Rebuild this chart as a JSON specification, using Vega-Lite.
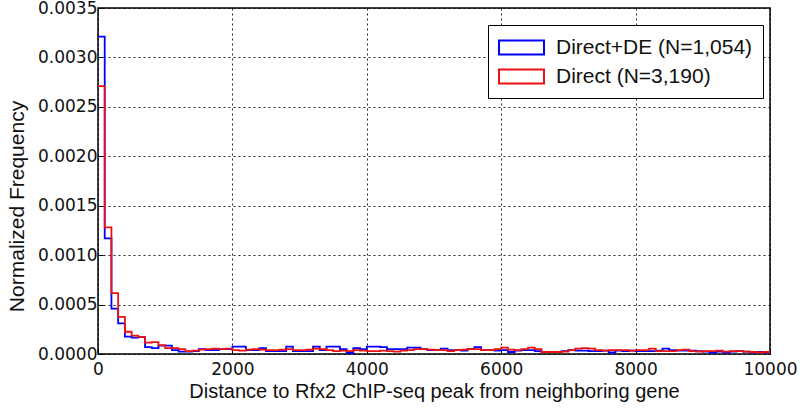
{
  "$schema": "https://vega.github.io/schema/vega-lite/v6.json",
  "width": 672,
  "height": 346,
  "autosize": {"type": "none"},
  "padding": {"left": 98, "top": 8, "right": 30, "bottom": 54},
  "background": "white",
  "config": {
    "view": {"stroke": "#000", "strokeWidth": 1.5},
    "axis": {
      "gridColor": "#000",
      "gridDash": [2, 3],
      "gridWidth": 1,
      "gridOpacity": 0.85,
      "domain": false,
      "tickColor": "#000",
      "tickSize": -5,
      "labelFont": "DejaVu Sans",
      "labelFontSize": 17,
      "labelColor": "#111",
      "titleFont": "Liberation Sans",
      "titleFontSize": 20,
      "titleFontWeight": "normal",
      "titleColor": "#111"
    }
  },
  "datasets": {
    "hist": [
      {"series": "Direct+DE (N=1,054)", "x": 0, "y": 0.00321},
      {"series": "Direct+DE (N=1,054)", "x": 100, "y": 0.00117},
      {"series": "Direct+DE (N=1,054)", "x": 200, "y": 0.00046},
      {"series": "Direct+DE (N=1,054)", "x": 300, "y": 0.00031},
      {"series": "Direct+DE (N=1,054)", "x": 400, "y": 0.000175},
      {"series": "Direct+DE (N=1,054)", "x": 500, "y": 0.000165},
      {"series": "Direct+DE (N=1,054)", "x": 600, "y": 0.00017},
      {"series": "Direct+DE (N=1,054)", "x": 700, "y": 0.00007},
      {"series": "Direct+DE (N=1,054)", "x": 800, "y": 0.00006},
      {"series": "Direct+DE (N=1,054)", "x": 900, "y": 0.000085},
      {"series": "Direct+DE (N=1,054)", "x": 1000, "y": 0.000085},
      {"series": "Direct+DE (N=1,054)", "x": 1100, "y": 0.00004},
      {"series": "Direct+DE (N=1,054)", "x": 1200, "y": 0.000025},
      {"series": "Direct+DE (N=1,054)", "x": 1300, "y": 0.000025},
      {"series": "Direct+DE (N=1,054)", "x": 1400, "y": 0.00003},
      {"series": "Direct+DE (N=1,054)", "x": 1500, "y": 0.00005},
      {"series": "Direct+DE (N=1,054)", "x": 1600, "y": 0.00004},
      {"series": "Direct+DE (N=1,054)", "x": 1700, "y": 0.00004},
      {"series": "Direct+DE (N=1,054)", "x": 1800, "y": 0.00005},
      {"series": "Direct+DE (N=1,054)", "x": 1900, "y": 0.00005},
      {"series": "Direct+DE (N=1,054)", "x": 2000, "y": 0.000075},
      {"series": "Direct+DE (N=1,054)", "x": 2100, "y": 0.000075},
      {"series": "Direct+DE (N=1,054)", "x": 2200, "y": 0.00004},
      {"series": "Direct+DE (N=1,054)", "x": 2300, "y": 0.00004},
      {"series": "Direct+DE (N=1,054)", "x": 2400, "y": 0.00006},
      {"series": "Direct+DE (N=1,054)", "x": 2500, "y": 0.00003},
      {"series": "Direct+DE (N=1,054)", "x": 2600, "y": 0.00003},
      {"series": "Direct+DE (N=1,054)", "x": 2700, "y": 0.00003},
      {"series": "Direct+DE (N=1,054)", "x": 2800, "y": 0.000075},
      {"series": "Direct+DE (N=1,054)", "x": 2900, "y": 0.00003},
      {"series": "Direct+DE (N=1,054)", "x": 3000, "y": 0.00003},
      {"series": "Direct+DE (N=1,054)", "x": 3100, "y": 0.00003},
      {"series": "Direct+DE (N=1,054)", "x": 3200, "y": 0.000075},
      {"series": "Direct+DE (N=1,054)", "x": 3300, "y": 0.00004},
      {"series": "Direct+DE (N=1,054)", "x": 3400, "y": 0.000075},
      {"series": "Direct+DE (N=1,054)", "x": 3500, "y": 0.000075},
      {"series": "Direct+DE (N=1,054)", "x": 3600, "y": 0.00005},
      {"series": "Direct+DE (N=1,054)", "x": 3700, "y": 0.00001},
      {"series": "Direct+DE (N=1,054)", "x": 3800, "y": 0.00006},
      {"series": "Direct+DE (N=1,054)", "x": 3900, "y": 0.00005},
      {"series": "Direct+DE (N=1,054)", "x": 4000, "y": 0.000075},
      {"series": "Direct+DE (N=1,054)", "x": 4100, "y": 0.000075},
      {"series": "Direct+DE (N=1,054)", "x": 4200, "y": 0.00007},
      {"series": "Direct+DE (N=1,054)", "x": 4300, "y": 0.00005},
      {"series": "Direct+DE (N=1,054)", "x": 4400, "y": 0.00005},
      {"series": "Direct+DE (N=1,054)", "x": 4500, "y": 0.00005},
      {"series": "Direct+DE (N=1,054)", "x": 4600, "y": 0.000065},
      {"series": "Direct+DE (N=1,054)", "x": 4700, "y": 0.000065},
      {"series": "Direct+DE (N=1,054)", "x": 4800, "y": 0.00005},
      {"series": "Direct+DE (N=1,054)", "x": 4900, "y": 0.00004},
      {"series": "Direct+DE (N=1,054)", "x": 5000, "y": 0.00004},
      {"series": "Direct+DE (N=1,054)", "x": 5100, "y": 0.000055},
      {"series": "Direct+DE (N=1,054)", "x": 5200, "y": 0.00004},
      {"series": "Direct+DE (N=1,054)", "x": 5300, "y": 0.00004},
      {"series": "Direct+DE (N=1,054)", "x": 5400, "y": 0.000035},
      {"series": "Direct+DE (N=1,054)", "x": 5500, "y": 0.00005},
      {"series": "Direct+DE (N=1,054)", "x": 5600, "y": 0.00007},
      {"series": "Direct+DE (N=1,054)", "x": 5700, "y": 0.00004},
      {"series": "Direct+DE (N=1,054)", "x": 5800, "y": 0.00004},
      {"series": "Direct+DE (N=1,054)", "x": 5900, "y": 0.000035},
      {"series": "Direct+DE (N=1,054)", "x": 6000, "y": 0.00004},
      {"series": "Direct+DE (N=1,054)", "x": 6100, "y": 0.00002},
      {"series": "Direct+DE (N=1,054)", "x": 6200, "y": 0.000035},
      {"series": "Direct+DE (N=1,054)", "x": 6300, "y": 0.00004},
      {"series": "Direct+DE (N=1,054)", "x": 6400, "y": 0.00004},
      {"series": "Direct+DE (N=1,054)", "x": 6500, "y": 0.00003},
      {"series": "Direct+DE (N=1,054)", "x": 6600, "y": 0.00002},
      {"series": "Direct+DE (N=1,054)", "x": 6700, "y": 0.00002},
      {"series": "Direct+DE (N=1,054)", "x": 6800, "y": 0.00002},
      {"series": "Direct+DE (N=1,054)", "x": 6900, "y": 0.00003},
      {"series": "Direct+DE (N=1,054)", "x": 7000, "y": 0.00004},
      {"series": "Direct+DE (N=1,054)", "x": 7100, "y": 0.000035},
      {"series": "Direct+DE (N=1,054)", "x": 7200, "y": 0.000035},
      {"series": "Direct+DE (N=1,054)", "x": 7300, "y": 0.00003},
      {"series": "Direct+DE (N=1,054)", "x": 7400, "y": 0.00003},
      {"series": "Direct+DE (N=1,054)", "x": 7500, "y": 0.000035},
      {"series": "Direct+DE (N=1,054)", "x": 7600, "y": 0.000015},
      {"series": "Direct+DE (N=1,054)", "x": 7700, "y": 0.000035},
      {"series": "Direct+DE (N=1,054)", "x": 7800, "y": 0.00003},
      {"series": "Direct+DE (N=1,054)", "x": 7900, "y": 0.000035},
      {"series": "Direct+DE (N=1,054)", "x": 8000, "y": 0.00003},
      {"series": "Direct+DE (N=1,054)", "x": 8100, "y": 0.00003},
      {"series": "Direct+DE (N=1,054)", "x": 8200, "y": 0.00003},
      {"series": "Direct+DE (N=1,054)", "x": 8300, "y": 0.000035},
      {"series": "Direct+DE (N=1,054)", "x": 8400, "y": 0.000055},
      {"series": "Direct+DE (N=1,054)", "x": 8500, "y": 0.00004},
      {"series": "Direct+DE (N=1,054)", "x": 8600, "y": 0.000035},
      {"series": "Direct+DE (N=1,054)", "x": 8700, "y": 0.000035},
      {"series": "Direct+DE (N=1,054)", "x": 8800, "y": 0.000035},
      {"series": "Direct+DE (N=1,054)", "x": 8900, "y": 0.00003},
      {"series": "Direct+DE (N=1,054)", "x": 9000, "y": 0.000025},
      {"series": "Direct+DE (N=1,054)", "x": 9100, "y": 0.000015},
      {"series": "Direct+DE (N=1,054)", "x": 9200, "y": 0.000025},
      {"series": "Direct+DE (N=1,054)", "x": 9300, "y": 0.000015},
      {"series": "Direct+DE (N=1,054)", "x": 9400, "y": 0.000025},
      {"series": "Direct+DE (N=1,054)", "x": 9500, "y": 0.00003},
      {"series": "Direct+DE (N=1,054)", "x": 9600, "y": 0.000025},
      {"series": "Direct+DE (N=1,054)", "x": 9700, "y": 0.000015},
      {"series": "Direct+DE (N=1,054)", "x": 9800, "y": 0.00002},
      {"series": "Direct+DE (N=1,054)", "x": 9900, "y": 0.000015},
      {"series": "Direct+DE (N=1,054)", "x": 10000, "y": 0},
      {"series": "Direct (N=3,190)", "x": 0, "y": 0.00271},
      {"series": "Direct (N=3,190)", "x": 100, "y": 0.00128},
      {"series": "Direct (N=3,190)", "x": 200, "y": 0.000615},
      {"series": "Direct (N=3,190)", "x": 300, "y": 0.000375},
      {"series": "Direct (N=3,190)", "x": 400, "y": 0.000225},
      {"series": "Direct (N=3,190)", "x": 500, "y": 0.000185},
      {"series": "Direct (N=3,190)", "x": 600, "y": 0.00017},
      {"series": "Direct (N=3,190)", "x": 700, "y": 0.000115},
      {"series": "Direct (N=3,190)", "x": 800, "y": 0.00012},
      {"series": "Direct (N=3,190)", "x": 900, "y": 0.00009},
      {"series": "Direct (N=3,190)", "x": 1000, "y": 0.00006},
      {"series": "Direct (N=3,190)", "x": 1100, "y": 0.00006},
      {"series": "Direct (N=3,190)", "x": 1200, "y": 0.00005},
      {"series": "Direct (N=3,190)", "x": 1300, "y": 0.00003},
      {"series": "Direct (N=3,190)", "x": 1400, "y": 0.000035},
      {"series": "Direct (N=3,190)", "x": 1500, "y": 0.000045},
      {"series": "Direct (N=3,190)", "x": 1600, "y": 0.00005},
      {"series": "Direct (N=3,190)", "x": 1700, "y": 0.000055},
      {"series": "Direct (N=3,190)", "x": 1800, "y": 0.00005},
      {"series": "Direct (N=3,190)", "x": 1900, "y": 0.000055},
      {"series": "Direct (N=3,190)", "x": 2000, "y": 0.00004},
      {"series": "Direct (N=3,190)", "x": 2100, "y": 0.000035},
      {"series": "Direct (N=3,190)", "x": 2200, "y": 0.000045},
      {"series": "Direct (N=3,190)", "x": 2300, "y": 0.00005},
      {"series": "Direct (N=3,190)", "x": 2400, "y": 0.000045},
      {"series": "Direct (N=3,190)", "x": 2500, "y": 0.00004},
      {"series": "Direct (N=3,190)", "x": 2600, "y": 0.00004},
      {"series": "Direct (N=3,190)", "x": 2700, "y": 0.000045},
      {"series": "Direct (N=3,190)", "x": 2800, "y": 0.00005},
      {"series": "Direct (N=3,190)", "x": 2900, "y": 0.00004},
      {"series": "Direct (N=3,190)", "x": 3000, "y": 0.00004},
      {"series": "Direct (N=3,190)", "x": 3100, "y": 0.000045},
      {"series": "Direct (N=3,190)", "x": 3200, "y": 0.000055},
      {"series": "Direct (N=3,190)", "x": 3300, "y": 0.00005},
      {"series": "Direct (N=3,190)", "x": 3400, "y": 0.00004},
      {"series": "Direct (N=3,190)", "x": 3500, "y": 0.00003},
      {"series": "Direct (N=3,190)", "x": 3600, "y": 0.000035},
      {"series": "Direct (N=3,190)", "x": 3700, "y": 0.00003},
      {"series": "Direct (N=3,190)", "x": 3800, "y": 0.00004},
      {"series": "Direct (N=3,190)", "x": 3900, "y": 0.000035},
      {"series": "Direct (N=3,190)", "x": 4000, "y": 0.00003},
      {"series": "Direct (N=3,190)", "x": 4100, "y": 0.00003},
      {"series": "Direct (N=3,190)", "x": 4200, "y": 0.000035},
      {"series": "Direct (N=3,190)", "x": 4300, "y": 0.00003},
      {"series": "Direct (N=3,190)", "x": 4400, "y": 0.000025},
      {"series": "Direct (N=3,190)", "x": 4500, "y": 0.000035},
      {"series": "Direct (N=3,190)", "x": 4600, "y": 0.00004},
      {"series": "Direct (N=3,190)", "x": 4700, "y": 0.00005},
      {"series": "Direct (N=3,190)", "x": 4800, "y": 0.00005},
      {"series": "Direct (N=3,190)", "x": 4900, "y": 0.000045},
      {"series": "Direct (N=3,190)", "x": 5000, "y": 0.00004},
      {"series": "Direct (N=3,190)", "x": 5100, "y": 0.00004},
      {"series": "Direct (N=3,190)", "x": 5200, "y": 0.00003},
      {"series": "Direct (N=3,190)", "x": 5300, "y": 0.00004},
      {"series": "Direct (N=3,190)", "x": 5400, "y": 0.000045},
      {"series": "Direct (N=3,190)", "x": 5500, "y": 0.00005},
      {"series": "Direct (N=3,190)", "x": 5600, "y": 0.00005},
      {"series": "Direct (N=3,190)", "x": 5700, "y": 0.00004},
      {"series": "Direct (N=3,190)", "x": 5800, "y": 0.00004},
      {"series": "Direct (N=3,190)", "x": 5900, "y": 0.00005},
      {"series": "Direct (N=3,190)", "x": 6000, "y": 0.000065},
      {"series": "Direct (N=3,190)", "x": 6100, "y": 0.000045},
      {"series": "Direct (N=3,190)", "x": 6200, "y": 0.00004},
      {"series": "Direct (N=3,190)", "x": 6300, "y": 0.00005},
      {"series": "Direct (N=3,190)", "x": 6400, "y": 0.000065},
      {"series": "Direct (N=3,190)", "x": 6500, "y": 0.00005},
      {"series": "Direct (N=3,190)", "x": 6600, "y": 0.00002},
      {"series": "Direct (N=3,190)", "x": 6700, "y": 0.00002},
      {"series": "Direct (N=3,190)", "x": 6800, "y": 0.00002},
      {"series": "Direct (N=3,190)", "x": 6900, "y": 0.000025},
      {"series": "Direct (N=3,190)", "x": 7000, "y": 0.00004},
      {"series": "Direct (N=3,190)", "x": 7100, "y": 0.000055},
      {"series": "Direct (N=3,190)", "x": 7200, "y": 0.00006},
      {"series": "Direct (N=3,190)", "x": 7300, "y": 0.000055},
      {"series": "Direct (N=3,190)", "x": 7400, "y": 0.00004},
      {"series": "Direct (N=3,190)", "x": 7500, "y": 0.000035},
      {"series": "Direct (N=3,190)", "x": 7600, "y": 0.00004},
      {"series": "Direct (N=3,190)", "x": 7700, "y": 0.00004},
      {"series": "Direct (N=3,190)", "x": 7800, "y": 0.00004},
      {"series": "Direct (N=3,190)", "x": 7900, "y": 0.000035},
      {"series": "Direct (N=3,190)", "x": 8000, "y": 0.00004},
      {"series": "Direct (N=3,190)", "x": 8100, "y": 0.00004},
      {"series": "Direct (N=3,190)", "x": 8200, "y": 0.000055},
      {"series": "Direct (N=3,190)", "x": 8300, "y": 0.00003},
      {"series": "Direct (N=3,190)", "x": 8400, "y": 0.00003},
      {"series": "Direct (N=3,190)", "x": 8500, "y": 0.00003},
      {"series": "Direct (N=3,190)", "x": 8600, "y": 0.00004},
      {"series": "Direct (N=3,190)", "x": 8700, "y": 0.000045},
      {"series": "Direct (N=3,190)", "x": 8800, "y": 0.00003},
      {"series": "Direct (N=3,190)", "x": 8900, "y": 0.000025},
      {"series": "Direct (N=3,190)", "x": 9000, "y": 0.00003},
      {"series": "Direct (N=3,190)", "x": 9100, "y": 0.00003},
      {"series": "Direct (N=3,190)", "x": 9200, "y": 0.000035},
      {"series": "Direct (N=3,190)", "x": 9300, "y": 0.000025},
      {"series": "Direct (N=3,190)", "x": 9400, "y": 0.00003},
      {"series": "Direct (N=3,190)", "x": 9500, "y": 0.00003},
      {"series": "Direct (N=3,190)", "x": 9600, "y": 0.000025},
      {"series": "Direct (N=3,190)", "x": 9700, "y": 0.00002},
      {"series": "Direct (N=3,190)", "x": 9800, "y": 0.000015},
      {"series": "Direct (N=3,190)", "x": 9900, "y": 0.00002},
      {"series": "Direct (N=3,190)", "x": 10000, "y": 0}
    ]
  },
  "data": {"name": "hist"},
  "encoding": {
    "x": {
      "field": "x",
      "type": "quantitative",
      "scale": {"domain": [0, 10000], "nice": false},
      "axis": {
        "title": "Distance to Rfx2 ChIP-seq peak from neighboring gene",
        "values": [0, 2000, 4000, 6000, 8000, 10000],
        "format": "d",
        "labelFlush": false,
        "labelPadding": 12,
        "titlePadding": 4
      }
    },
    "y": {
      "field": "y",
      "type": "quantitative",
      "scale": {"domain": [0, 0.0035], "nice": false},
      "axis": {
        "title": "Normalized Frequency",
        "values": [0, 0.0005, 0.001, 0.0015, 0.002, 0.0025, 0.003, 0.0035],
        "format": ".4f",
        "labelFlush": false,
        "labelPadding": 6,
        "titlePadding": 10,
        "titleFontSize": 21,
        "titleY": 198
      }
    },
    "color": {
      "field": "series",
      "type": "nominal",
      "scale": {
        "domain": ["Direct+DE (N=1,054)", "Direct (N=3,190)"],
        "range": ["#0000ff", "#ee1111"]
      },
      "legend": {
        "title": null,
        "orient": "none",
        "legendX": 390,
        "legendY": 17,
        "padding": 10,
        "strokeColor": "#000",
        "fillColor": "white",
        "symbolType": "M-2,-0.62H2V0.62H-2Z",
        "symbolSize": 506,
        "symbolStrokeWidth": 2,
        "symbolFillColor": "transparent",
        "symbolOffset": 11,
        "labelOffset": 22,
        "labelFont": "Liberation Sans",
        "labelFontSize": 21,
        "labelColor": "#111",
        "rowPadding": 5,
        "labelLimit": 400
      }
    }
  },
  "layer": [
    {
      "transform": [{"filter": "datum.series === 'Direct+DE (N=1,054)'"}],
      "mark": {"type": "line", "interpolate": "step-after", "strokeWidth": 1.8, "clip": true}
    },
    {
      "transform": [{"filter": "datum.series === 'Direct (N=3,190)'"}],
      "mark": {"type": "line", "interpolate": "step-after", "strokeWidth": 1.8, "clip": true}
    }
  ]
}
